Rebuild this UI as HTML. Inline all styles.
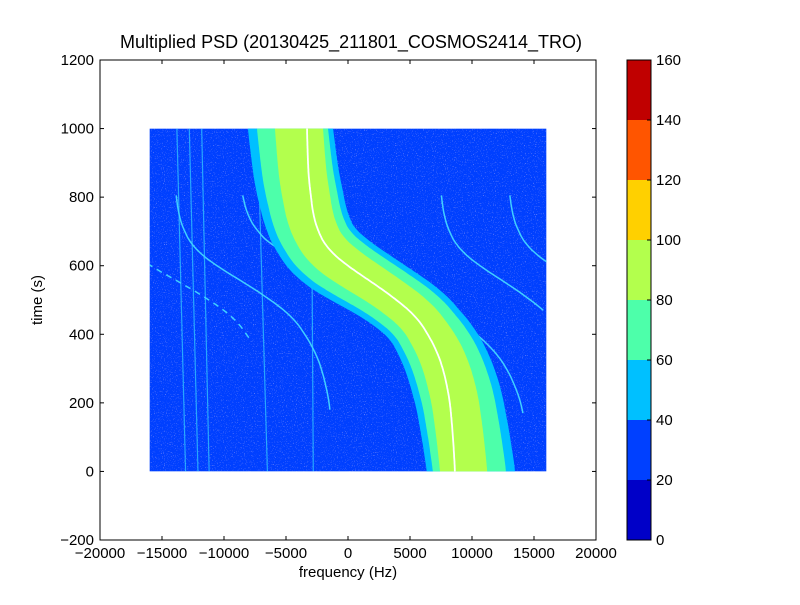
<!DOCTYPE html>
<html><head><meta charset="utf-8"><style>
body{margin:0;background:#fff;}
svg text{font-family:"Liberation Sans",sans-serif;fill:#000;}
</style></head><body>
<svg id="chart" width="800" height="600" xmlns="http://www.w3.org/2000/svg">
<defs>
<filter id="speck" x="0" y="0" width="1" height="1">
<feTurbulence type="fractalNoise" baseFrequency="0.9" numOctaves="1" seed="3" result="n"/>
<feColorMatrix in="n" type="matrix" values="0 0 0 0 0.42  0 0 0 0 0.42  0 0 0 0 0.9  0 0 0 7 -4.3"/>
</filter>
<clipPath id="dataClip"><rect id="clipRect" x="0" y="0" width="0" height="0"/></clipPath>
</defs>
<rect x="100" y="60" width="496" height="480" fill="#fff"/>
<g id="plot" clip-path="url(#dataClip)"></g>
<g id="axes"></g>
<text x="351" y="48" font-size="18" text-anchor="middle">Multiplied PSD (20130425_211801_COSMOS2414_TRO)</text>
<text x="348" y="577" font-size="15" text-anchor="middle">frequency (Hz)</text>
<text x="42" y="300" font-size="15" text-anchor="middle" transform="rotate(-90 42 300)">time (s)</text>
<g id="cbar"></g>
</svg>
<script>
const xTicks = [-20000,-15000,-10000,-5000,0,5000,10000,15000,20000];
const yTicks = [-200,0,200,400,600,800,1000,1200];
const cbLevels = [0,20,40,60,80,100,120,140,160];
const cbColors = ["#0000c8","#0040ff","#00c0ff","#4dffaa","#b3ff4d","#ffd000","#ff5500","#c00000"];
const dataFreqRange = [-16000,16000];
const dataTimeRange = [0,1000];
const times = [0,100,200,250,300,350,400,450,500,550,600,650,700,750,800,850,900,1000];
const centerFreq = [8630,8470,8230,7980,7660,7180,6450,5560,3950,2020,-80,-1690,-2420,-2820,-2980,-3150,-3230,-3310];
// band edge perpendicular offsets (Hz-equivalent) at t=0 and t=1000: [left0,right0,left1000,right1000]
const band40 = [-2260,4840,-4760,2100];
const band60 = [-1770,4110,-4030,1690];
const band80 = [-1200,2600,-2580,1290];
const vertLines = [[-13800,1000,-13100,0],[-12800,1000,-12100,0],[-11800,1000,-11200,0],[-7300,1000,-6500,0],[-2900,600,-2800,0]];
// [scale, shift Hz, tStart, tEnd, dashed]
const shiftedCurves = [[1.1,-10560,180,805,0],[2,-2500,170,805,0],[1.04,10650,470,805,0],[1.15,16500,610,805,0],[1.2,-15900,390,612,1]];

const NS="http://www.w3.org/2000/svg";
const X=f=>100+(f+20000)/40000*496;
const Y=t=>540-(t+200)/1400*480;
const PXPERHZ=496/40000;
function mk(tag,attrs,parent){const e=document.createElementNS(NS,tag);for(const k in attrs)e.setAttribute(k,attrs[k]);parent.appendChild(e);return e;}
function lin(t){for(let i=0;i<times.length-1;i++){if(t<=times[i+1]){const u=(t-times[i])/(times[i+1]-times[i]);return centerFreq[i]+u*(centerFreq[i+1]-centerFreq[i]);}}return centerFreq[centerFreq.length-1];}
function interp(t){let s=0,n=0;for(let d=-30;d<=30;d+=5){const tt=Math.min(1000,Math.max(0,t+d));s+=lin(tt);n++;}return s/n;}
const plot=document.getElementById('plot'),axes=document.getElementById('axes'),cbar=document.getElementById('cbar');
const x0=X(dataFreqRange[0]),x1=X(dataFreqRange[1]),y0=Y(dataTimeRange[1]),y1=Y(dataTimeRange[0]);
const cr=document.getElementById('clipRect');cr.setAttribute('x',x0);cr.setAttribute('y',y0);cr.setAttribute('width',x1-x0);cr.setAttribute('height',y1-y0);
let bg=mk('rect',{x:x0,y:y0,width:x1-x0,height:y1-y0,fill:cbColors[1]},plot);


let sp=mk('rect',{x:x0,y:y0,width:x1-x0,height:y1-y0,filter:'url(#speck)',opacity:'0.6'},plot);


vertLines.forEach(l=>{let e=mk('line',{x1:X(l[0]),y1:Y(l[1]),x2:X(l[2]),y2:Y(l[3]),stroke:'#30c8ff','stroke-width':1.2,opacity:0.75},plot);

});
shiftedCurves.forEach(c=>{let pts=[];for(let t=c[2];t<=c[3];t+=5){pts.push(X(c[0]*interp(t)+c[1]).toFixed(1)+','+Y(t).toFixed(1));}
let e=mk('polyline',{points:pts.join(' '),fill:'none',stroke:'#40d0ff','stroke-width':1.5},plot);
if(c[4])e.setAttribute('stroke-dasharray','6 5');

});
function centerPt(t){return [X(interp(t)),Y(t)];}
function drawBand(b,color,name){const L=[],R=[];for(let t=-40;t<=1040;t+=4){const p=centerPt(t),pa=centerPt(Math.max(-40,t-6)),pb=centerPt(Math.min(1040,t+6));let dx=pb[0]-pa[0],dy=pb[1]-pa[1];const len=Math.hypot(dx,dy)||1;dx/=len;dy/=len;
let nx=-dy,ny=dx;if(nx<0){nx=-nx;ny=-ny;}
const u=Math.min(1,Math.max(0,t/1000));const m=1-0.22*Math.exp(-Math.pow((t-520)/160,2));
const l=(b[0]+u*(b[2]-b[0]))*PXPERHZ*m,r=(b[1]+u*(b[3]-b[1]))*PXPERHZ*m;
L.push((p[0]+nx*l).toFixed(1)+','+(p[1]+ny*l).toFixed(1));R.push((p[0]+nx*r).toFixed(1)+','+(p[1]+ny*r).toFixed(1));}
const pts=L.concat(R.reverse());let e=mk('polygon',{points:pts.join(' '),fill:color},plot);

}
drawBand(band40,cbColors[2],'band-40-60');
drawBand(band60,cbColors[3],'band-60-80');
drawBand(band80,cbColors[4],'band-80-100');
{let pts=[];for(let t=0;t<=1000;t+=4)pts.push(X(interp(t)).toFixed(1)+','+Y(t).toFixed(1));
let e=mk('polyline',{points:pts.join(' '),fill:'none',stroke:'#fff','stroke-width':1.8},plot);

}
let fr=mk('rect',{x:100,y:60,width:496,height:480,fill:'none',stroke:'#000','stroke-width':1},axes);


xTicks.forEach(v=>{const x=X(v);mk('line',{x1:x,y1:540,x2:x,y2:536,stroke:'#000'},axes);mk('line',{x1:x,y1:60,x2:x,y2:64,stroke:'#000'},axes);
let t=mk('text',{x:x,y:558,'font-size':15,'text-anchor':'middle'},axes);t.textContent=(v<0?'\u2212'+(-v):v);

});
yTicks.forEach(v=>{const y=Y(v);mk('line',{x1:100,y1:y,x2:104,y2:y,stroke:'#000'},axes);mk('line',{x1:596,y1:y,x2:592,y2:y,stroke:'#000'},axes);
let t=mk('text',{x:94,y:y+5,'font-size':15,'text-anchor':'end'},axes);t.textContent=(v<0?'\u2212'+(-v):v);

});
const cbY=v=>540-(v-cbLevels[0])/(cbLevels[cbLevels.length-1]-cbLevels[0])*480;
for(let i=0;i<cbColors.length;i++){let r=mk('rect',{x:627,y:cbY(cbLevels[i+1]),width:24,height:cbY(cbLevels[i])-cbY(cbLevels[i+1]),fill:cbColors[i]},cbar);

}
let cf=mk('rect',{x:627,y:60,width:24,height:480,fill:'none',stroke:'#000'},cbar);


cbLevels.forEach(v=>{const y=cbY(v);mk('line',{x1:647,y1:y,x2:651,y2:y,stroke:'#000'},cbar);
let t=mk('text',{x:656,y:y+5,'font-size':15},cbar);t.textContent=v;

});
</script>
</body></html>
